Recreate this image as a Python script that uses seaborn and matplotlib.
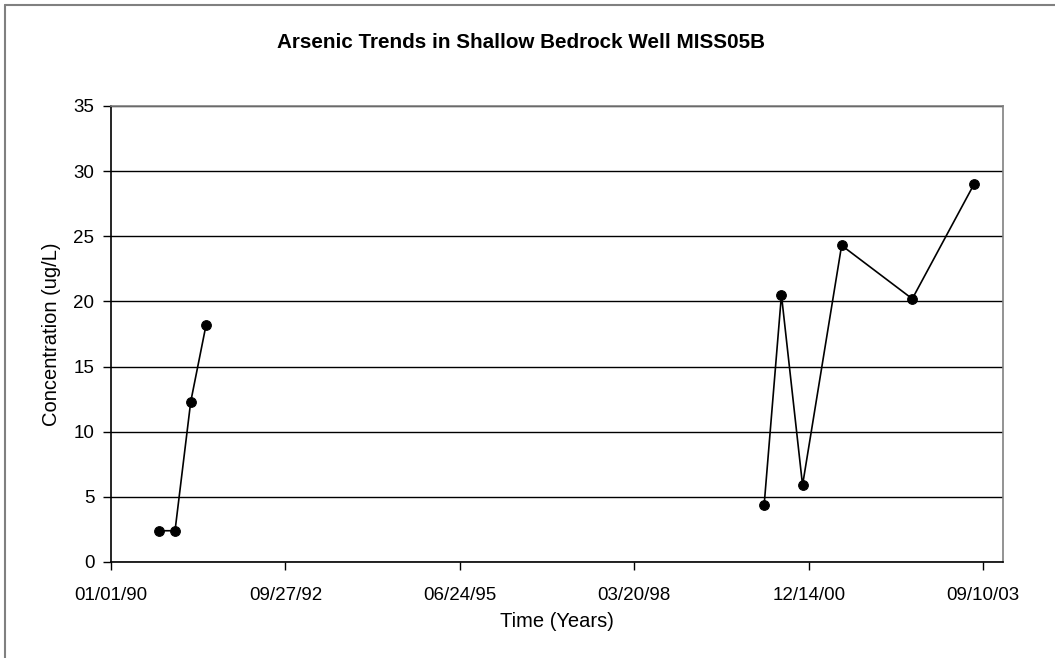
import matplotlib
matplotlib.use("Agg")
import matplotlib.pyplot as plt
import matplotlib.dates as mdates
from matplotlib.lines import Line2D
import seaborn as sns
import pandas as pd
import numpy as np

# ---- data ----
sample_dates = ["1990-10-01", "1991-01-03", "1991-04-03", "1991-06-30",
                "2000-04-02", "2000-07-10", "2000-11-08", "2001-06-20",
                "2002-07-30", "2003-07-19"]
arsenic = [2.4, 2.4, 12.3, 18.2, 4.4, 20.5, 5.9, 24.3, 20.2, 29.0]
segment = [1, 1, 1, 1, 2, 2, 2, 2, 2, 2]
y_ticks = [0, 5, 10, 15, 20, 25, 30, 35]
x_start = "1990-01-01"
x_tick_step_days = 1000
n_x_ticks = 6
x_end_days = 5113

title = "Arsenic Trends in Shallow Bedrock Well MISS05B"
xlabel = "Time (Years)"
ylabel = "Concentration (ug/L)"

df = pd.DataFrame({"date": pd.to_datetime(sample_dates),
                   "value": arsenic,
                   "segment": segment})

sns.set_theme(style="white")
plt.rcParams["font.family"] = ["Liberation Sans", "DejaVu Sans"]

fig = plt.figure(figsize=(10.55, 6.58), dpi=100)
ax = fig.add_axes([111/1055, 1 - 562/658, (1003 - 111)/1055, (562 - 106)/658])

sns.lineplot(data=df, x="date", y="value", units="segment", estimator=None,
             color="black", linewidth=1.2, marker="o", markersize=7,
             markeredgecolor="black", markerfacecolor="black", ax=ax,
             legend=False)

start = pd.Timestamp(x_start)
ticks = [start + pd.Timedelta(days=k * x_tick_step_days) for k in range(n_x_ticks)]
ax.set_xlim(start, start + pd.Timedelta(days=x_end_days))
ax.set_xticks(ticks)
ax.xaxis.set_major_formatter(mdates.DateFormatter("%m/%d/%y"))

ax.set_ylim(0, 35)
ax.set_yticks(y_ticks)
ax.yaxis.grid(True, color="black", linewidth=1.0)
ax.xaxis.grid(False)
ax.set_axisbelow(True)

ax.tick_params(axis="both", which="major", direction="out", length=6,
               width=1, color="black", labelsize=13.5, labelcolor="black",
               bottom=True, left=True)
ax.tick_params(axis="x", pad=12)
ax.tick_params(axis="y", pad=6)

for side in ["left", "bottom"]:
    ax.spines[side].set_color("black")
    ax.spines[side].set_linewidth(1.2)
for side in ["top", "right"]:
    ax.spines[side].set_color("#808080")
    ax.spines[side].set_linewidth(1.2)

ax.set_xlabel(xlabel, fontsize=14.5, color="black", labelpad=6)
ax.set_ylabel(ylabel, fontsize=14.5, color="black", labelpad=9)

fig.text(521/1055, 1 - 42/658, title, ha="center", va="center",
         fontsize=14.9, fontweight="bold", color="black")

# chart area border (left and top visible)
fig.add_artist(Line2D([5/1055, 5/1055], [0, 1 - 5/658],
                      transform=fig.transFigure, color="#808080", linewidth=1.5))
fig.add_artist(Line2D([5/1055, 1], [1 - 5/658, 1 - 5/658],
                      transform=fig.transFigure, color="#808080", linewidth=1.5))

fig.savefig("out.png", dpi=100, facecolor="white")
